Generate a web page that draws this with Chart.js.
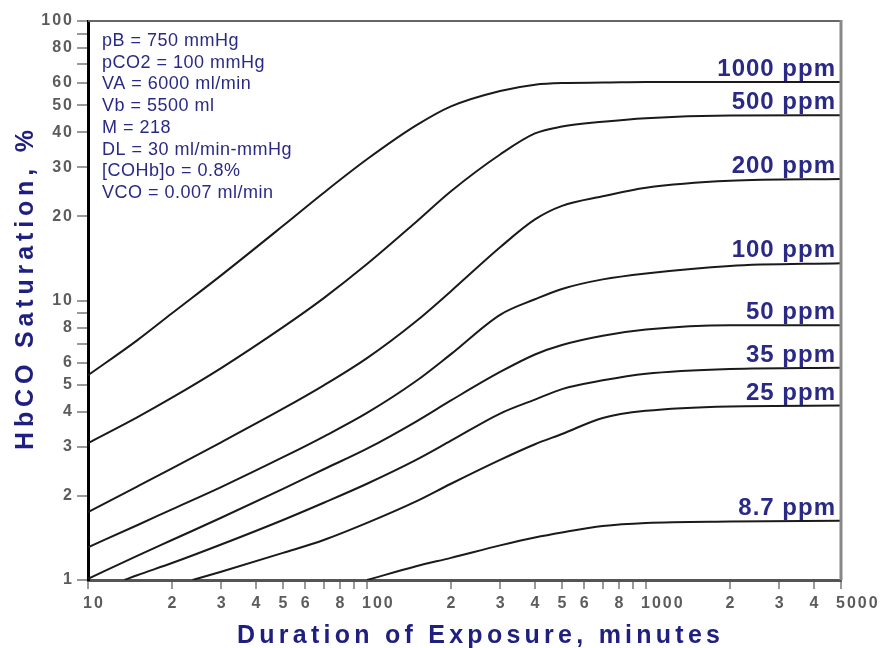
<!DOCTYPE html>
<html>
<head>
<meta charset="utf-8">
<script src="https://cdn.jsdelivr.net/npm/chart.js@4.4.1/dist/chart.umd.min.js"></script>
<style>
html, body { margin: 0; background: #fff; }
canvas { display: block; }
</style>
</head>
<body>
<canvas id="hbco" width="882" height="648"></canvas>
<script>
// exposure time (minutes) and HbCO saturation (%)
const minutes = [10, 15, 20, 30, 50, 70, 100, 150, 200, 300, 400, 500, 700, 1000, 2000, 5000];
const hbco1000 = [5.4, 7.2, 9.0, 12.3, 18.5, 24.3, 32, 42.3, 49.5, 56.2, 59.2, 60, 60.2, 60.5, 60.5, 60.5];
const hbco500 = [3.09, 3.82, 4.49, 5.73, 8.03, 10.2, 13.5, 19.1, 24.6, 33.3, 39.6, 41.9, 43.6, 44.9, 45.9, 46];
const hbco200 = [1.75, 2.16, 2.51, 3.11, 4.1, 4.97, 6.22, 8.43, 10.8, 15.5, 19.5, 21.8, 23.6, 25.3, 26.8, 27.2];
const hbco100 = [1.31, 1.57, 1.79, 2.15, 2.75, 3.26, 3.96, 5.15, 6.43, 8.89, 10.1, 11.0, 11.9, 12.5, 13.3, 13.6];
const hbco50 = [1.01, 1.22, 1.39, 1.67, 2.12, 2.49, 2.95, 3.69, 4.39, 5.55, 6.41, 6.93, 7.48, 7.87, 8.16, 8.16];

const minutes35 = [13.5, 15, 20, 30, 50, 70, 100, 150, 200, 300, 400, 500, 700, 1000, 2000, 5000];
const hbco35 = [1.0, 1.04, 1.15, 1.34, 1.64, 1.89, 2.21, 2.69, 3.15, 3.94, 4.42, 4.82, 5.18, 5.47, 5.69, 5.75];

const minutes25 = [23.7, 30, 50, 70, 100, 150, 200, 300, 400, 500, 700, 1000, 2000, 5000];
const hbco25 = [1.0, 1.07, 1.25, 1.39, 1.6, 1.91, 2.21, 2.69, 3.06, 3.33, 3.8, 4.03, 4.18, 4.21];

const minutes8_7 = [100, 150, 200, 300, 400, 500, 700, 1000, 2000, 5000];
const hbco8_7 = [1.0, 1.12, 1.2, 1.33, 1.42, 1.48, 1.56, 1.6, 1.62, 1.63];

const curveLabels = ['1000 ppm', '500 ppm', '200 ppm', '100 ppm', '50 ppm', '35 ppm', '25 ppm', '8.7 ppm'];

const xTicks = [10, 20, 30, 40, 50, 60, 70, 80, 90, 100, 200, 300, 400, 500, 600, 700, 800, 900, 1000, 2000, 3000, 4000, 5000];
const xLabels = ['10', '2', '3', '4', '5', '6', '', '8', '', '100', '2', '3', '4', '5', '6', '', '8', '', '1000', '2', '3', '4', '5000'];
const yTicks = [1, 2, 3, 4, 5, 6, 7, 8, 9, 10, 20, 30, 40, 50, 60, 70, 80, 90, 100];
const yLabels = ['1', '2', '3', '4', '5', '6', '', '8', '', '10', '20', '30', '40', '50', '60', '', '80', '', '100'];

const notes = [
    'pB = 750 mmHg',
    'pCO2 = 100 mmHg',
    'VA = 6000 ml/min',
    'Vb = 5500 ml',
    'M = 218',
    'DL = 30 ml/min-mmHg',
    '[COHb]o = 0.8%',
    'VCO = 0.007 ml/min'
];

const series = [
    [minutes, hbco1000],
    [minutes, hbco500],
    [minutes, hbco200],
    [minutes, hbco100],
    [minutes, hbco50],
    [minutes35, hbco35],
    [minutes25, hbco25],
    [minutes8_7, hbco8_7]
];

const navy = '#2a2a86';
const FONT = '"Liberation Sans", Arial, sans-serif';

function spacedText(ctx, text, x, y, width) {
    // spreads the text so that it fills the given width, starting at x
    ctx.letterSpacing = '0px';
    const w = ctx.measureText(text).width;
    const sp = (width - w) / (text.length - 1);
    ctx.letterSpacing = sp + 'px';
    ctx.fillText(text, x, y);
    ctx.letterSpacing = '0px';
}

const decor = {
    id: 'decor',
    afterDraw(chart) {
        const { ctx, chartArea: a, scales: { x, y } } = chart;
        ctx.save();

        // frame top and right
        ctx.strokeStyle = '#666';
        ctx.lineWidth = 2;
        ctx.beginPath();
        ctx.moveTo(a.left, a.top);
        ctx.lineTo(a.right, a.top);
        ctx.stroke();
        ctx.strokeStyle = '#888';
        ctx.lineWidth = 3;
        ctx.beginPath();
        ctx.moveTo(a.right, a.top - 1);
        ctx.lineTo(a.right, a.bottom);
        ctx.stroke();

        // tick labels
        ctx.fillStyle = '#5c5c5c';
        ctx.font = 'bold 16px ' + FONT;
        ctx.letterSpacing = '2px';
        ctx.textBaseline = 'middle';
        ctx.textAlign = 'right';
        yTicks.forEach((v, i) => {
            if (yLabels[i]) ctx.fillText(yLabels[i], 74, y.getPixelForValue(v));
        });
        xTicks.forEach((v, i) => {
            const t = xLabels[i];
            if (!t) return;
            const px = x.getPixelForValue(v);
            if (t.length > 1) {
                ctx.textAlign = 'left';
                ctx.fillText(t, px - 5, 604);
            } else {
                ctx.textAlign = 'center';
                ctx.fillText(t, px + 1, 604);
            }
        });

        // parameter block
        ctx.fillStyle = navy;
        ctx.font = '18px ' + FONT;
        ctx.letterSpacing = '0.5px';
        ctx.textAlign = 'left';
        ctx.textBaseline = 'alphabetic';
        notes.forEach((t, i) => ctx.fillText(t, 102, 46 + i * 21.7));

        // curve labels at the right end of each line
        ctx.font = 'bold 24px ' + FONT;
        ctx.letterSpacing = '1px';
        ctx.textAlign = 'right';
        series.forEach((s, i) => {
            const last = s[1][s[1].length - 1];
            ctx.fillText(curveLabels[i], a.right - 5, y.getPixelForValue(last) - 6);
        });
        ctx.letterSpacing = '0px';

        // axis titles
        ctx.fillStyle = '#1f1f80';
        ctx.font = 'bold 25px ' + FONT;
        ctx.textAlign = 'left';
        spacedText(ctx, 'Duration of Exposure, minutes', 237, 643, 483);
        ctx.translate(33, 450);
        ctx.rotate(-Math.PI / 2);
        spacedText(ctx, 'HbCO Saturation, %', 0, 0, 320);

        ctx.restore();
    }
};

const datasets = series.map((s, i) => ({
    label: curveLabels[i],
    data: s[0].map((m, j) => ({ x: m, y: s[1][j] })),
    borderColor: '#1a1a1a',
    borderWidth: 2,
    pointRadius: 0,
    fill: false,
    cubicInterpolationMode: 'monotone'
}));

new Chart(document.getElementById('hbco').getContext('2d'), {
    type: 'line',
    data: { datasets: datasets },
    options: {
        responsive: false,
        animation: false,
        layout: { padding: { top: 21, right: 41, left: 0, bottom: 0 } },
        scales: {
            x: {
                type: 'logarithmic',
                min: 10,
                max: 5000,
                afterBuildTicks: (scale) => { scale.ticks = xTicks.map(v => ({ value: v })); },
                afterFit: (scale) => { scale.height = 68; },
                ticks: { display: false },
                grid: { drawOnChartArea: false, drawTicks: true, tickLength: 9, color: '#999', lineWidth: 2 },
                border: { color: '#555', width: 3 }
            },
            y: {
                type: 'logarithmic',
                min: 1,
                max: 100,
                afterBuildTicks: (scale) => { scale.ticks = yTicks.map(v => ({ value: v })); },
                afterFit: (scale) => { scale.width = 88; },
                ticks: { display: false },
                grid: { drawOnChartArea: false, drawTicks: true, tickLength: 11, color: '#999', lineWidth: 2 },
                border: { color: '#000', width: 3 }
            }
        },
        plugins: {
            legend: { display: false },
            tooltip: { enabled: false }
        }
    },
    plugins: [decor]
});
</script>
</body>
</html>
